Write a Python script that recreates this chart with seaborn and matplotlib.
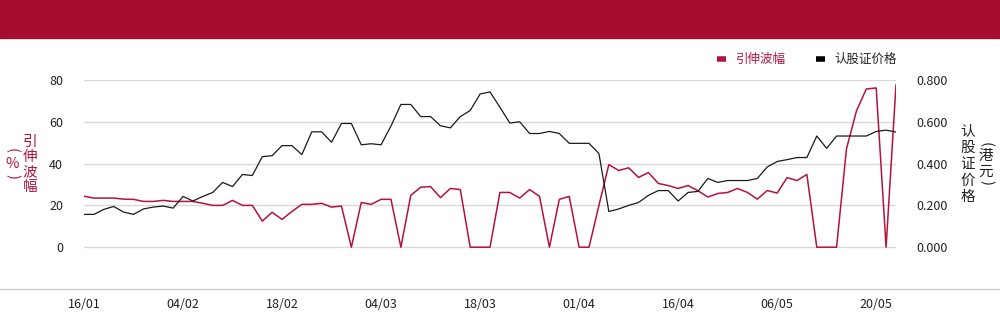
import numpy as np
import pandas as pd
import matplotlib
matplotlib.use("Agg")
import matplotlib.pyplot as plt
import seaborn as sns
from matplotlib.lines import Line2D
from matplotlib.patches import Rectangle

# ---------------- data ----------------
tick_labels = ["16/01", "04/02", "18/02", "04/03", "18/03", "01/04", "16/04", "06/05", "20/05"]

volatility = [
    24.4, 23.5, 23.5, 23.5, 23.0, 22.9, 21.9, 21.9, 22.4, 21.9,
    21.9, 21.9, 21.0, 20.0, 20.0, 22.4, 20.0, 20.0, 12.5, 16.7,
    13.3, 17.1, 20.5, 20.5, 21.0, 19.2, 19.7, 0.0, 21.4, 20.5,
    22.9, 22.9, 0.0, 24.8, 28.7, 29.0, 23.7, 28.1, 27.6, 0.0,
    0.0, 0.0, 26.2, 26.2, 23.5, 27.6, 24.3, 0.0, 22.9, 24.3,
    0.0, 0.0, 20.0, 39.5, 36.7, 38.0, 33.4, 35.7, 30.5, 29.5,
    28.1, 29.5, 27.0, 24.0, 25.7, 26.2, 28.1, 26.2, 23.0, 27.1,
    25.9, 33.3, 31.9, 34.8, 0.0, 0.0, 0.0, 47.1, 65.1, 75.7,
    76.2, 0.0, 77.8,
]

price = [
    0.157, 0.157, 0.181, 0.195, 0.168, 0.157, 0.183, 0.192, 0.197, 0.187,
    0.243, 0.221, 0.243, 0.262, 0.310, 0.290, 0.348, 0.343, 0.433, 0.438,
    0.486, 0.486, 0.443, 0.552, 0.552, 0.502, 0.592, 0.592, 0.490, 0.495,
    0.490, 0.580, 0.683, 0.683, 0.625, 0.625, 0.581, 0.571, 0.625, 0.654,
    0.733, 0.743, 0.670, 0.594, 0.600, 0.544, 0.544, 0.554, 0.544, 0.497,
    0.497, 0.497, 0.448, 0.171, 0.183, 0.200, 0.214, 0.248, 0.271, 0.271,
    0.221, 0.262, 0.267, 0.329, 0.310, 0.319, 0.319, 0.319, 0.329, 0.384,
    0.410, 0.419, 0.429, 0.429, 0.532, 0.473, 0.532, 0.532, 0.532, 0.532,
    0.554, 0.560, 0.551,
]

series_names = ["引伸波幅", "认股证价格"]

# ---------------- style ----------------
sns.set_theme(style="white")
plt.rcParams["font.family"] = ["Noto Sans CJK SC", "DejaVu Sans"]

RED = "#B5123E"
BANNER = "#A50E31"
DARK = "#222222"
GRID = "#D9D9D9"

W, H = 1000, 324
fig = plt.figure(figsize=(W / 100, H / 100), dpi=100)
fig.patches.append(Rectangle((0, 1 - 38 / H), 1, 38 / H, transform=fig.transFigure,
                             color=BANNER, zorder=0))

ax = fig.add_axes([84 / W, 35 / H, (896 - 84) / W, (289 - 80) / H])
ax.set_facecolor("none")

n = len(volatility)
df = pd.DataFrame({"idx": np.arange(n), "vol": volatility, "price": price})

sns.lineplot(data=df, x="idx", y="vol", ax=ax, color=RED, lw=1.1, zorder=3)
ax2 = ax.twinx()
sns.lineplot(data=df, x="idx", y="price", ax=ax2, color="#1a1a1a", lw=0.9, zorder=2)

ax.set_xlim(0, n - 1)
ax.set_ylim(-20, 80)
ax2.set_ylim(-0.2, 0.8)
ax.set_yticks([0, 20, 40, 60, 80])
ax2.set_yticks([0, 0.2, 0.4, 0.6, 0.8])
ax2.set_yticklabels([f"{v:.3f}" for v in [0, 0.2, 0.4, 0.6, 0.8]])
ax.set_xticks(np.arange(0, n, 10)[: len(tick_labels)])
ax.set_xticklabels(tick_labels)

ax.grid(False)
ax2.grid(False)
for v in [0, 20, 40, 60, 80]:
    ax.axhline(v, color=GRID, lw=1, zorder=1)

for a in (ax, ax2):
    for s in a.spines.values():
        s.set_visible(False)
    a.set_xlabel("")
    a.set_ylabel("")

ax.tick_params(axis="y", length=0, pad=15, labelsize=9, labelcolor=DARK)
ax2.tick_params(axis="y", length=0, pad=14.4, labelsize=9, labelcolor=DARK)
ax.tick_params(axis="x", length=0, pad=6.5, labelsize=9, labelcolor=DARK)

# bottom rule across full width
fig.add_artist(Line2D([0, 1], [35 / H, 35 / H], transform=fig.transFigure,
                      color="#CCCCCC", lw=1))


# vertical axis titles, one glyph at a time
def vtext(x, ys, chars, color):
    for y, ch in zip(ys, chars):
        rot = -90 if ch in "()" else 0
        fig.text(x / W, 1 - y / H, ch, ha="center", va="center", color=color,
                 fontsize=10.5, rotation=rot, rotation_mode="anchor")


vtext(30, [141.5, 157, 172, 187.5], "引伸波幅", RED)
vtext(12, [150, 164.5, 177], "(%)", RED)
vtext(968, [131, 147.5, 164, 180.5, 197], "认股证价格", DARK)
vtext(986, [145, 156, 172, 182.5], "(港元)", DARK)

# legend
handles = [Line2D([], [], color=RED, lw=4, solid_capstyle="butt"),
           Line2D([], [], color="black", lw=4, solid_capstyle="butt")]
fig.legend(handles, series_names, loc="lower right", bbox_to_anchor=(897 / W, 1 - 66 / H),
           ncol=2, frameon=False, handlelength=0.7, handletextpad=0.8, columnspacing=2.4,
           fontsize=9, labelcolor=[RED, DARK], borderpad=0, borderaxespad=0)

fig.savefig("out.png", dpi=100)
